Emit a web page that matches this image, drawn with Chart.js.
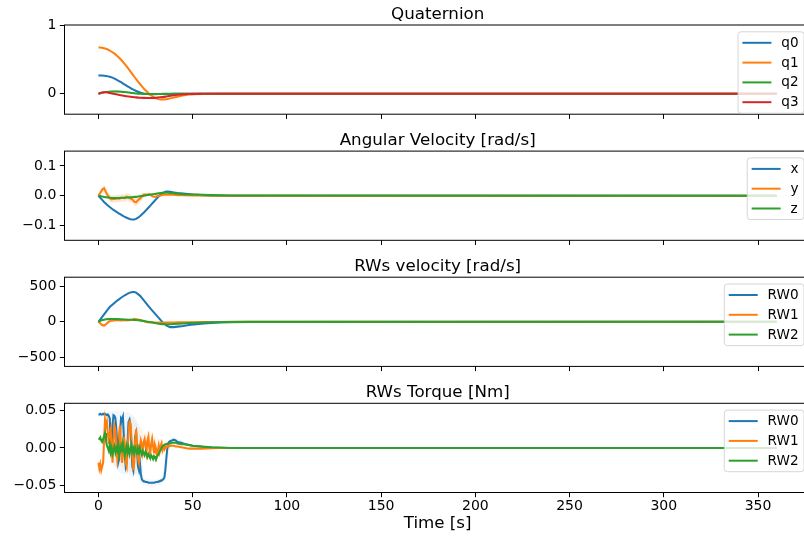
<!DOCTYPE html>
<html>
<head>
<meta charset="utf-8">
<script src="https://cdn.jsdelivr.net/npm/chart.js@4.4.1/dist/chart.umd.min.js"></script>
<style>
html, body { margin: 0; padding: 0; background: #fff; overflow: hidden; width: 804px; height: 538px; }
canvas { position: absolute; left: 0; top: 0; }
</style>
</head>
<body>
<canvas id="c0" width="816" height="538"></canvas>
<canvas id="c1" width="816" height="538"></canvas>
<canvas id="c2" width="816" height="538"></canvas>
<canvas id="c3" width="816" height="538"></canvas>
<script>
// ---------------- DATA ----------------
const xTicks = [0, 50, 100, 150, 200, 250, 300, 350];

// Quaternion
const quatTime = [0,2,4,6,8,10,12,14,16,18,20,22,24,26,28,30,33,36,40,44,48,55,65,360];
const q0 = [0.27,0.268,0.262,0.25,0.23,0.2,0.17,0.135,0.1,0.068,0.04,0.018,0.005,-0.002,-0.005,-0.005,-0.004,-0.003,-0.001,0,0,0,0,0];
const q1 = [0.68,0.675,0.66,0.635,0.6,0.555,0.5,0.435,0.365,0.29,0.215,0.145,0.08,0.025,-0.025,-0.06,-0.085,-0.08,-0.055,-0.03,-0.012,-0.002,0,0];
const q2 = [0,0.015,0.025,0.03,0.032,0.032,0.03,0.025,0.018,0.01,0.004,0,-0.002,-0.003,-0.003,-0.003,-0.002,-0.001,0,0,0,0,0,0];
const q3 = [0,0.018,0.022,0.012,0,-0.012,-0.022,-0.032,-0.04,-0.047,-0.053,-0.057,-0.06,-0.062,-0.062,-0.06,-0.052,-0.04,-0.022,-0.01,-0.004,-0.001,0,0];
const q2BandHigh = [0,0.03,0.045,0.052,0.055,0.055,0.052,0.045,0.035,0.022,0.012,0.004,0,-0.001,-0.001,-0.002,-0.001,0,0,0,0,0,0,0];
const q2BandLow  = [0,0.008,0.015,0.018,0.02,0.02,0.018,0.014,0.01,0.004,0.0,-0.003,-0.004,-0.005,-0.005,-0.004,-0.003,-0.002,0,0,0,0,0,0];
const quatTicks = [0, 1];

// Angular velocity
const angTime = [0,1,2,3,4,5,6,7,8,9,10,11,12,13,14,15,16,17,18,19,20,21,22,23,24,25,26,27,28,29,30,31,32,33,34,35,36,37,38,40,42,45,50,55,60,70,360];
const wX = [0,-0.007,-0.014,-0.021,-0.027,-0.033,-0.038,-0.043,-0.048,-0.052,
  -0.056,-0.06,-0.064,-0.068,-0.071,-0.074,-0.077,-0.079,-0.08,-0.08,
  -0.078,-0.074,-0.069,-0.063,-0.057,-0.051,-0.044,-0.037,-0.03,-0.023,
  -0.016,-0.009,-0.002,0.004,0.009,0.012,0.014,0.014,0.013,
  0.011,0.009,0.007,0.004,0.002,0.001,0,0];
const wY = [0,0.01,0.02,0.025,0.012,0,-0.008,-0.012,-0.01,-0.011,
  -0.009,-0.01,-0.008,-0.007,-0.008,-0.003,-0.006,-0.01,-0.012,-0.02,
  -0.022,-0.015,-0.01,-0.004,0.003,0.004,0.003,0.005,0.001,-0.003,
  -0.004,-0.002,0,0.001,0.002,0.003,0.003,0.003,0.003,
  0.003,0.002,0.002,0.001,0.001,0,0,0];
const wZ = [0,-0.001,-0.003,-0.004,-0.005,-0.006,-0.007,-0.008,-0.008,-0.008,
  -0.008,-0.008,-0.007,-0.007,-0.007,-0.006,-0.006,-0.005,-0.005,-0.004,
  -0.004,-0.003,-0.002,-0.001,0,0.001,0.002,0.003,0.004,0.005,
  0.006,0.007,0.008,0.009,0.01,0.01,0.01,0.01,0.009,
  0.008,0.007,0.005,0.004,0.003,0.002,0.001,0];
const wYBandHigh = [0,0.018,0.03,0.036,0.026,0.012,0.004,0.0,0.002,0.001,
  0.003,0.002,0.004,0.005,0.004,0.009,0.006,0.003,0.002,-0.006,
  -0.008,-0.002,0.004,0.008,0.01,0.009,0.007,0.008,0.004,0.0,
  -0.001,0.0,0.002,0.002,0.003,0.004,0.004,0.004,0.004,
  0.004,0.003,0.003,0.002,0.001,0,0,0];
const wYBandLow = [0,0.002,0.01,0.014,-0.002,-0.012,-0.02,-0.024,-0.022,-0.023,
  -0.021,-0.022,-0.02,-0.019,-0.02,-0.015,-0.018,-0.022,-0.024,-0.032,
  -0.036,-0.028,-0.024,-0.016,-0.004,-0.001,-0.001,0.002,-0.002,-0.006,
  -0.007,-0.004,-0.002,0.0,0.001,0.002,0.002,0.002,0.002,
  0.002,0.001,0.001,0,0.001,0,0,0];
const angTicks = [-0.1, 0, 0.1];

// RW velocity
const rwTime = [0,1,2,3,4,5,6,8,10,12,14,16,18,19,20,22,24,26,28,30,32,34,36,38,40,42,45,48,52,56,60,65,70,80,360];
const rw0Vel = [0,35,70,105,140,175,208,255,300,340,375,405,420,420,412,370,305,240,175,115,55,-5,-50,-75,-75,-68,-58,-45,-33,-24,-17,-10,-6,-2,0];
const rw1Vel = [0,-25,-45,-55,-35,-10,10,20,25,20,25,22,30,40,35,25,10,-5,-8,-10,-12,-12,-10,-10,-9,-8,-7,-6,-5,-4,-3,-2,-1,0,0];
const rw2Vel = [0,15,25,30,35,38,40,40,38,35,33,30,28,27,25,20,12,2,-8,-18,-27,-33,-36,-35,-32,-28,-23,-18,-13,-9,-6,-4,-2,-1,0];
const rw1VelBandHigh = [0,-5,-20,-30,-10,15,30,40,45,40,45,42,50,60,55,45,30,10,0,-3,-6,-7,-6,-6,-5,-5,-4,-4,-3,-2,-2,-1,0,0,0];
const rw1VelBandLow  = [0,-45,-70,-80,-60,-35,-10,0,5,0,5,2,10,20,15,5,-10,-20,-16,-17,-18,-17,-14,-14,-13,-11,-10,-8,-7,-6,-4,-3,-2,0,0];
const rwVelTicks = [-500, 0, 500];

// RW torque
const tqTime = [0,0.5,1,1.5,2,2.5,3,3.5,4,4.5,
  5,5.5,6,6.5,7,7.5,8,8.5,9,9.5,
  10,10.5,11,11.5,12,12.5,13,13.5,14,14.5,
  15,15.5,16,16.5,17,17.5,18,18.5,19,19.5,
  20,20.5,21,21.5,22,22.5,23,23.5,24,24.5,
  25,25.5,26,26.5,27,27.5,28,28.5,29,29.5,
  30,30.5,31,31.5,32,32.5,33,33.5,34,34.5,
  35,35.5,36,36.5,37,37.5,38,
  39,40,41,42,44,46,48,50,55,60,65,70,360];
const rw0Tq = [0.045,0.045,0.046,0.045,0.045,0.046,0.045,0.046,0.045,0.044,
  0.045,0.043,0.040,0.010,-0.010,0.030,0.044,0.043,0.040,0.025,
  0.005,-0.020,-0.015,0.020,0.040,0.038,0.042,0.015,-0.010,-0.025,
  -0.020,0.010,0.035,0.038,0.030,0.000,-0.025,-0.030,-0.010,0.015,
  0.020,-0.005,-0.025,-0.030,-0.020,-0.035,-0.042,-0.044,-0.045,-0.045,
  -0.046,-0.046,-0.046,-0.047,-0.047,-0.047,-0.047,-0.047,-0.047,-0.047,
  -0.047,-0.046,-0.046,-0.046,-0.045,-0.045,-0.044,-0.044,-0.043,-0.042,
  -0.040,-0.030,-0.015,-0.002,0.005,0.008,0.009,
  0.010,0.011,0.010,0.008,0.007,0.005,0.004,0.003,0.0015,0.0005,0,0,0];
const rw1Tq = [-0.020,-0.028,-0.022,-0.030,-0.025,-0.020,0.010,0.038,0.030,0.035,
  0.020,0.005,0.020,0.025,0.000,-0.020,0.010,0.030,0.025,0.000,
  -0.015,-0.005,0.020,0.030,0.000,-0.020,-0.010,0.015,0.005,-0.020,
  -0.025,0.000,0.020,0.035,0.033,0.015,-0.010,-0.030,-0.020,0.010,
  0.025,0.005,-0.015,-0.020,0.000,0.010,0.005,-0.005,0.008,0.012,
  0.003,-0.006,0.010,0.015,0.000,-0.008,0.005,0.012,0.002,-0.006,
  0.004,0.000,-0.010,-0.004,0.003,-0.005,0.002,0.006,-0.003,0.001,
  -0.002,0.002,0.000,0.002,0.003,0.002,0.003,
  0.003,0.003,0.002,0.002,0.001,0.000,-0.001,-0.001,-0.001,-0.0005,0,0,0];
const rw2Tq = [0.013,0.012,0.014,0.010,0.008,0.012,0.016,0.020,0.010,0.003,
  0.000,-0.004,0.004,-0.006,0.000,-0.008,-0.003,0.002,-0.006,0.000,
  -0.004,0.004,-0.010,-0.004,0.002,-0.006,0.006,-0.002,-0.010,-0.003,
  0.003,-0.006,0.000,-0.008,-0.002,0.004,-0.005,-0.001,-0.007,0.000,
  -0.004,-0.008,-0.002,-0.006,0.000,-0.005,-0.009,-0.004,-0.007,-0.010,
  -0.005,-0.008,-0.012,-0.008,-0.011,-0.014,-0.010,-0.012,-0.015,-0.011,
  -0.013,-0.016,-0.012,-0.010,-0.008,-0.005,-0.003,0.000,0.002,0.003,
  0.004,0.005,0.005,0.006,0.006,0.006,0.006,
  0.007,0.007,0.007,0.006,0.005,0.005,0.004,0.003,0.002,0.001,0.0005,0,0];
const tqBandTime = [0,1,2,3,4,5,6,8,10,12,14,16,18,20,22,24,26,28,30,32,34,36,38,40,45,50,60,360];
const rw0TqBandHigh = [0.048,0.048,0.048,0.048,0.048,0.048,0.05,0.05,0.05,0.05,0.048,0.048,0.045,0.04,0.02,-0.04,-0.042,-0.043,-0.043,-0.042,-0.038,0.0,0.012,0.014,0.009,0.005,0.001,0];
const rw0TqBandLow  = [0.042,0.042,0.042,0.042,0.042,0.04,0.035,-0.02,-0.03,-0.035,-0.035,-0.035,-0.04,-0.035,-0.045,-0.05,-0.051,-0.051,-0.051,-0.05,-0.047,-0.035,0.004,0.008,0.005,0.002,0,0];
const rw1TqBandHigh = [-0.01,-0.015,-0.01,0.03,0.048,0.04,0.035,0.035,0.03,0.035,0.025,0.04,0.042,0.035,0.03,0.02,0.022,0.022,0.015,0.012,0.01,0.006,0.005,0.005,0.003,0.001,0,0];
const rw1TqBandLow  = [-0.03,-0.038,-0.035,-0.01,0.02,0.01,0.0,-0.025,-0.025,-0.025,-0.03,-0.03,-0.035,-0.035,-0.025,-0.01,-0.015,-0.012,-0.01,-0.01,-0.008,-0.003,-0.001,0.001,0.0,-0.002,-0.001,0];
const rwTqTicks = [-0.05, 0, 0.05];

// ---------------- STYLE / LAYOUT ----------------
const COLORS = ['#1f77b4', '#ff7f0e', '#2ca02c', '#d62728'];
const BAND_RGB = ['31,119,180', '255,127,14', '44,160,44', '214,39,40'];
const FONT = "'DejaVu Sans', sans-serif";
const TICK_FS = 14, TITLE_FS = 16.7, LEGEND_FS = 13.6;
const X_MIN = -18, X_MAX = 378;
const AREA_LEFT = 64.5, AREA_RIGHT = 810.8, CANVAS_W = 816, CANVAS_H = 538;
const PANEL_TOPS = [25, 151.1, 277.2, 403.3];
const PANEL_H = 89.2;

Chart.defaults.font.family = FONT;
Chart.defaults.font.size = TICK_FS;
Chart.defaults.color = '#000';

function fmt(v, d) {
  const s = Math.abs(v) < 1e-12 ? (0).toFixed(d) : v.toFixed(d);
  return s.replace('-', '\u2212');
}

function roundRect(ctx, x, y, w, h, r) {
  ctx.beginPath();
  ctx.moveTo(x + r, y);
  ctx.lineTo(x + w - r, y);
  ctx.arcTo(x + w, y, x + w, y + r, r);
  ctx.lineTo(x + w, y + h - r);
  ctx.arcTo(x + w, y + h, x + w - r, y + h, r);
  ctx.lineTo(x + r, y + h);
  ctx.arcTo(x, y + h, x, y + h - r, r);
  ctx.lineTo(x, y + r);
  ctx.arcTo(x, y, x + r, y, r);
  ctx.closePath();
}

const decorPlugin = {
  id: 'panelDecor',
  afterDatasetsDraw(chart, args, opts) {
    const ctx = chart.ctx, a = chart.chartArea;
    ctx.save();
    // frame (spines)
    ctx.strokeStyle = '#000';
    ctx.lineWidth = 1;
    ctx.strokeRect(a.left, a.top, a.right - a.left, a.bottom - a.top);
    // title
    ctx.fillStyle = '#000';
    ctx.font = TITLE_FS + 'px ' + FONT;
    ctx.textAlign = 'center';
    ctx.textBaseline = 'alphabetic';
    ctx.fillText(opts.title, (a.left + a.right) / 2, a.top - 6.5);
    // legend
    ctx.font = LEGEND_FS + 'px ' + FONT;
    const ds = chart.data.datasets.filter(d => !d.isBand);
    const tw = Math.max(...ds.map(d => ctx.measureText(d.label).width));
    const pad = 5.4, hl = 27, htp = 10.9, rowH = 19.8;
    const w = pad + hl + htp + tw + pad;
    const right = a.right - 6.8, top = a.top + 6.8;
    const h = 22 + (ds.length - 1) * rowH;
    const left = right - w;
    roundRect(ctx, left, top, w, h, 3);
    ctx.fillStyle = 'rgba(255,255,255,0.8)';
    ctx.fill();
    ctx.strokeStyle = 'rgba(204,204,204,0.8)';
    ctx.lineWidth = 1;
    ctx.stroke();
    ds.forEach((d, i) => {
      const y = top + 11 + i * rowH;
      ctx.beginPath();
      ctx.strokeStyle = d.borderColor;
      ctx.lineWidth = 2;
      ctx.lineCap = 'butt';
      ctx.moveTo(left + pad - 1, y);
      ctx.lineTo(left + pad + hl + 1, y);
      ctx.stroke();
      ctx.fillStyle = '#000';
      ctx.textAlign = 'left';
      ctx.textBaseline = 'middle';
      ctx.fillText(d.label, left + pad + hl + htp, y + 0.5);
    });
    ctx.restore();
  }
};

function buildPanel(id, i, spec) {
  const top = PANEL_TOPS[i], bottom = top + PANEL_H;
  const isLast = (i === 3);
  const xH = isLast ? 534 - bottom : 6;
  const datasets = [];
  (spec.bands || []).forEach(b => {
    const base = { isBand: true, label: '', pointRadius: 0, borderWidth: 0, tension: 0,
      borderColor: 'rgba(0,0,0,0)', backgroundColor: 'rgba(' + BAND_RGB[b.color] + ',' + b.alpha + ')', order: 20 };
    datasets.push(Object.assign({}, base, { data: b.time.map((t, j) => ({ x: t, y: b.high[j] })), fill: '+1' }));
    datasets.push(Object.assign({}, base, { data: b.time.map((t, j) => ({ x: t, y: b.low[j] })), fill: false }));
  });
  spec.series.forEach((s, k) => datasets.push({
    label: s.label,
    data: spec.time.map((t, j) => ({ x: t, y: s.values[j] })),
    borderColor: COLORS[k],
    backgroundColor: COLORS[k],
    borderWidth: 2.05,
    pointRadius: 0,
    fill: false,
    tension: 0,
    cubicInterpolationMode: spec.smooth ? 'monotone' : 'default',
    order: spec.series.length - k
  }));
  const gridOpts = { drawOnChartArea: false, color: 'rgba(0,0,0,0)', tickColor: '#000', tickLength: 4.7, tickWidth: 1 };
  new Chart(document.getElementById(id), {
    type: 'line',
    data: { datasets },
    options: {
      responsive: false,
      animation: false,
      devicePixelRatio: 1,
      events: [],
      layout: { padding: { left: 0, right: CANVAS_W - AREA_RIGHT, top: top, bottom: CANVAS_H - bottom - xH } },
      plugins: { legend: { display: false }, tooltip: { enabled: false }, panelDecor: { title: spec.title } },
      scales: {
        x: {
          type: 'linear', min: X_MIN, max: X_MAX,
          afterBuildTicks: s => { s.ticks = xTicks.map(v => ({ value: v })); },
          afterFit: s => { s.height = xH; },
          grid: gridOpts,
          border: { display: false },
          ticks: { display: isLast, color: '#000', font: { size: TICK_FS }, padding: 1, maxRotation: 0, autoSkip: false, callback: v => String(v) },
          title: { display: isLast, text: 'Time [s]', color: '#000', font: { size: TITLE_FS }, padding: { top: 0, bottom: 0 } }
        },
        y: {
          type: 'linear', min: spec.yMin, max: spec.yMax,
          afterBuildTicks: s => { s.ticks = spec.yTicks.map(v => ({ value: v })); },
          afterFit: s => { s.width = AREA_LEFT; },
          grid: gridOpts,
          border: { display: false },
          ticks: { color: '#000', font: { size: TICK_FS }, padding: 3.5, autoSkip: false, callback: v => fmt(v, spec.dec) }
        }
      }
    },
    plugins: [decorPlugin]
  });
}

buildPanel('c0', 0, {
  title: 'Quaternion', time: quatTime, smooth: true, yMin: -0.3, yMax: 1.01, yTicks: quatTicks, dec: 0,
  bands: [{ time: quatTime, high: q2BandHigh, low: q2BandLow, color: 2, alpha: 0.2 }],
  series: [{ label: 'q0', values: q0 }, { label: 'q1', values: q1 }, { label: 'q2', values: q2 }, { label: 'q3', values: q3 }]
});
buildPanel('c1', 1, {
  title: 'Angular Velocity [rad/s]', time: angTime, smooth: false, yMin: -0.15, yMax: 0.15, yTicks: angTicks, dec: 1,
  bands: [{ time: angTime, high: wYBandHigh, low: wYBandLow, color: 1, alpha: 0.2 }],
  series: [{ label: 'x', values: wX }, { label: 'y', values: wY }, { label: 'z', values: wZ }]
});
buildPanel('c2', 2, {
  title: 'RWs velocity [rad/s]', time: rwTime, smooth: false, yMin: -630, yMax: 630, yTicks: rwVelTicks, dec: 0,
  bands: [{ time: rwTime, high: rw1VelBandHigh, low: rw1VelBandLow, color: 1, alpha: 0.15 }],
  series: [{ label: 'RW0', values: rw0Vel }, { label: 'RW1', values: rw1Vel }, { label: 'RW2', values: rw2Vel }]
});
buildPanel('c3', 3, {
  title: 'RWs Torque [Nm]', time: tqTime, smooth: false, yMin: -0.06, yMax: 0.06, yTicks: rwTqTicks, dec: 2,
  bands: [{ time: tqBandTime, high: rw0TqBandHigh, low: rw0TqBandLow, color: 0, alpha: 0.06 },
          { time: tqBandTime, high: rw1TqBandHigh, low: rw1TqBandLow, color: 1, alpha: 0.08 }],
  series: [{ label: 'RW0', values: rw0Tq }, { label: 'RW1', values: rw1Tq }, { label: 'RW2', values: rw2Tq }]
});
</script>
</body>
</html>
